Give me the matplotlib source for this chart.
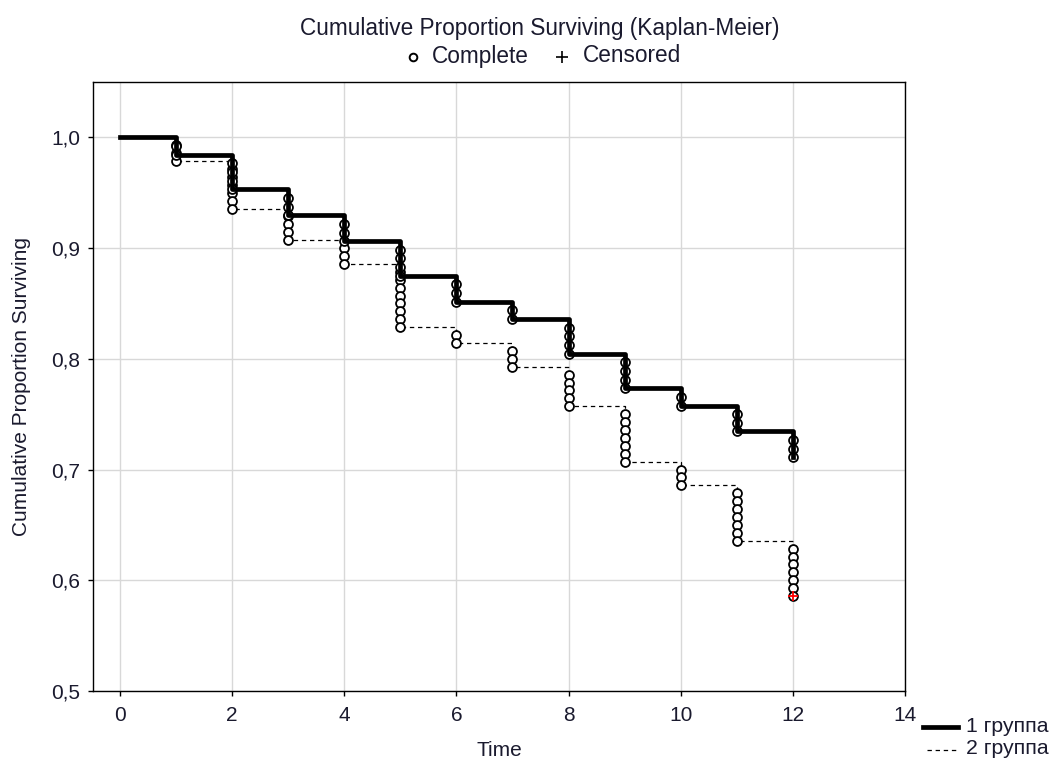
import numpy as np
import matplotlib
matplotlib.use("Agg")
import matplotlib.pyplot as plt
from matplotlib.lines import Line2D

plt.rcParams["font.family"] = ["Liberation Sans", "DejaVu Sans"]

# %% data: deaths per month, read off the steps in the picture
times = [1, 2, 3, 4, 5, 6, 7, 8, 9, 10, 11, 12]
n_group1 = 128
deaths_group1 = [2, 4, 3, 3, 4, 3, 2, 4, 4, 2, 3, 3]
n_group2 = 140
deaths_group2 = [3, 6, 4, 3, 8, 2, 3, 5, 7, 3, 7, 7]
censored_group2 = [(12, 0.586)]

x_ticks = [0, 2, 4, 6, 8, 10, 12, 14]
y_ticks = [0.5, 0.6, 0.7, 0.8, 0.9, 1.0]
y_tick_labels = ["0,5", "0,6", "0,7", "0,8", "0,9", "1,0"]
labels = ["1 группа", "2 группа"]

TXT = "#1a1a2e"
W, H = 1055, 762


def km(n, deaths):
    # Kaplan-Meier without censoring before the last month
    steps = [1.0]
    pts_x, pts_y = [], []
    alive = n
    for t, d in zip(times, deaths):
        for k in range(d):
            alive -= 1
            pts_x.append(t)
            pts_y.append(alive / n)
        steps.append(alive / n)
    return [0] + times, steps, pts_x, pts_y


def fx(px):
    return px / W


def fy(py):
    return 1 - py / H


fig = plt.figure(figsize=(W / 100, H / 100), dpi=100)
ax = fig.add_axes([fx(93), fy(691), fx(905) - fx(93), fy(82) - fy(691)])

sx1, sy1, cx1, cy1 = km(n_group1, deaths_group1)
sx2, sy2, cx2, cy2 = km(n_group2, deaths_group2)

ax.step(sx2, sy2, where="post", color="black", lw=0.9, ls=(0, (3.5, 3)), zorder=2)
ax.plot(cx2, cy2, "o", ms=6.4, mfc="white", mec="black", mew=1.3, zorder=3, ls="none")
ax.plot(cx1, cy1, "o", ms=6.4, mfc="white", mec="black", mew=1.3, zorder=3, ls="none")
ax.step(sx1, sy1, where="post", color="black", lw=3.4, zorder=4)
for cx, cy in censored_group2:
    ax.plot(cx, cy, "+", color="red", ms=7, mew=1.3, zorder=5)

ax.set_xlim(-0.48, 14)
ax.set_ylim(0.5, 1.05)
ax.set_xticks(x_ticks)
ax.set_yticks(y_ticks)
ax.set_yticklabels(y_tick_labels)
ax.grid(True, color="#d8d8d8", lw=1.0)
ax.set_axisbelow(True)
ax.tick_params(direction="out", length=3.5, width=1, labelsize=15, labelcolor=TXT)
ax.tick_params(axis="x", pad=7.5)
ax.tick_params(axis="y", pad=5.5)
for s in ax.spines.values():
    s.set_linewidth(1.0)

fig.text(fx(499), fy(750), "Time", ha="center", va="center", fontsize=15, color=TXT)
fig.text(fx(22), fy(386), "Cumulative Proportion Surviving", ha="center", va="center",
         rotation=90, fontsize=15, color=TXT)

fig.text(fx(540), fy(28), "Cumulative Proportion Surviving (Kaplan-Meier)",
         ha="center", va="center", fontsize=16.3, color=TXT)
fig.add_artist(Line2D([fx(413)], [fy(57)], marker="o", ms=5.5, mfc="white",
                      mec="black", mew=1.4, transform=fig.transFigure))
fig.text(fx(432), fy(56), "Complete", ha="left", va="center", fontsize=16.3, color=TXT)
fig.add_artist(Line2D([fx(562)], [fy(57)], marker="+", ms=8, color="black",
                      mew=1.2, transform=fig.transFigure))
fig.text(fx(583), fy(56), "Censored", ha="left", va="center", fontsize=16.3, color=TXT)

# legend in the lower right corner
fig.add_artist(Line2D([fx(923), fx(958)], [fy(727)] * 2, color="black", lw=3.4,
                      transform=fig.transFigure))
fig.add_artist(Line2D([fx(927), fx(958)], [fy(750)] * 2, color="black", lw=0.9,
                      ls=(0, (3.5, 3)), transform=fig.transFigure))
fig.text(fx(966), fy(726), labels[0], ha="left", va="center", fontsize=15.3, color=TXT)
fig.text(fx(966), fy(749), labels[1], ha="left", va="center", fontsize=15.3, color=TXT)

fig.savefig("out.png", dpi=100)
